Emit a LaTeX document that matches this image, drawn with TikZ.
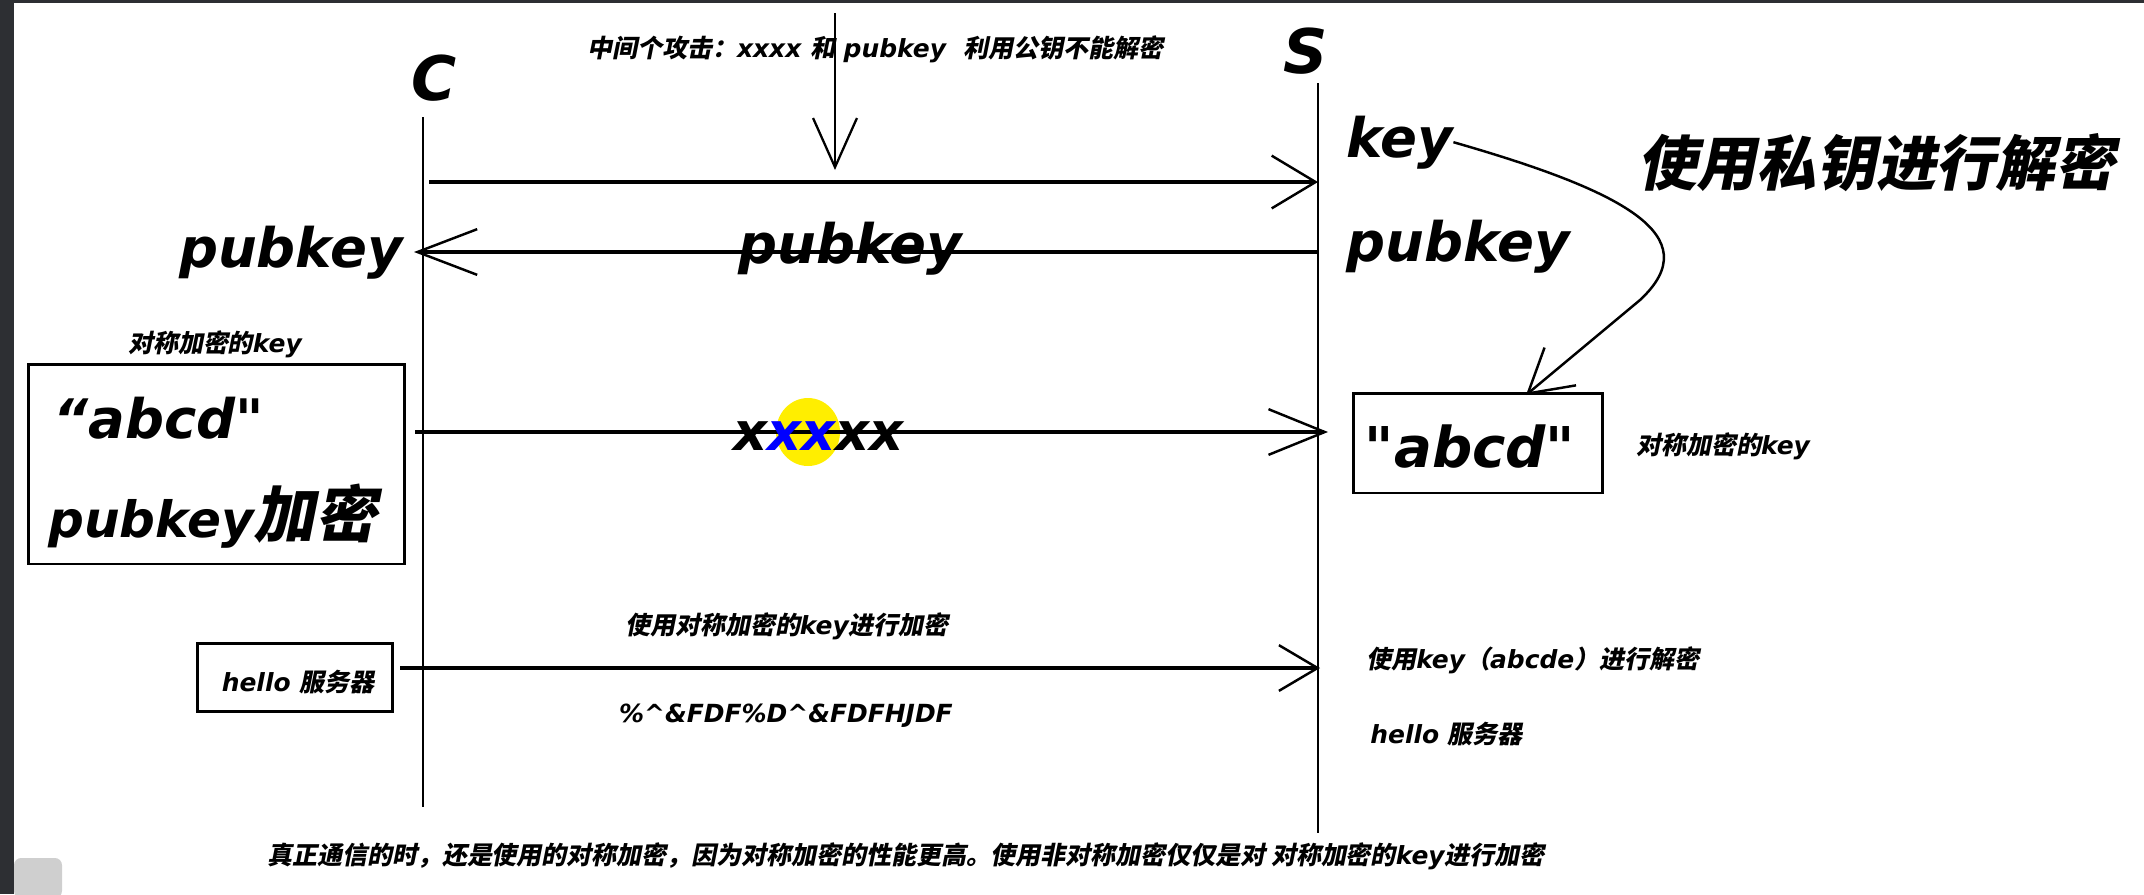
\documentclass[tikz,border=0pt]{standalone}
\usepackage{fontspec}
\setmainfont{DejaVu Sans}[Ligatures=TeXOff]
\newfontfamily\zhfont{Noto Sans CJK SC}[FakeSlant=0.2]
\newcommand\zh[1]{{\zhfont\bfseries\upshape#1}}
\usetikzlibrary{arrows.meta}
\definecolor{scrdark}{HTML}{2D2F33}
\definecolor{scrgray}{HTML}{CFCFCF}
\definecolor{xblue}{HTML}{0000FF}
\definecolor{hiyellow}{HTML}{FFEE00}

\begin{document}
\begin{tikzpicture}[x=0.02cm,y=-0.02cm,
  every node/.style={inner sep=0pt,font=\bfseries\itshape},
  life/.style={line width=1.4pt},
  arr/.style 2 args={line width=2.1pt,-{Straight Barb[length=#1,width=#2,line width=1.4pt]}},
  box/.style={draw,line width=1.7pt},
  sm/.style={font=\bfseries\itshape\fontsize{14.2}{17}\selectfont},
  bg/.style={font=\bfseries\itshape\fontsize{31}{37}\selectfont},
  big/.style={font=\bfseries\itshape\fontsize{35}{42}\selectfont}]
  \useasboundingbox (0,0) rectangle (2144,894);
  % screenshot border
  \fill[scrdark] (0,0) rectangle (14,894);
  \fill[scrdark] (0,0) rectangle (2144,3);
  \fill[scrgray,rounded corners=4pt] (14,858) rectangle (62,898);
  % client and server
  \node[big,anchor=base] (C) at (434,100) {C};
  \node[big,anchor=base] (S) at (1306,73) {S};
  \coordinate (ctop) at (423,117);
  \coordinate (cbot) at (423,807);
  \coordinate (stop) at (1318,83);
  \coordinate (sbot) at (1318,833);
  \draw[life] (ctop) -- (cbot);
  \draw[life] (stop) -- (sbot);
  % man in the middle
  \node[sm,anchor=base west] (mitm) at (587,57)
      {\zh{中间个攻击：}xxxx \zh{和} pubkey\ \ \zh{利用公钥不能解密}};
  \coordinate (atk) at (835,13);
  \coordinate (atktip) at (835,170);
  \draw[life,-{Straight Barb[length=28pt,width=25pt,line width=1.3pt]}] (atk) -- (atktip);
  % 1: hello
  \coordinate (c1) at (429,182);
  \coordinate (s1) at (1318,182);
  \draw[arr={25pt}{30pt}] (c1) -- (s1);
  % 2: pubkey back
  \coordinate (s2) at (1318,252);
  \coordinate (c2) at (414,252);
  \draw[arr={34pt}{26pt}] (s2) -- (c2);
  \node[bg,anchor=base east] (pkc) at (403,267) {pubkey};
  \node[bg,anchor=base] (pkmid) at (850,263) {pubkey};
  \node[bg,anchor=base west] (keys) at (1346,157) {key};
  \node[bg,anchor=base west] (pks) at (1346,261) {pubkey};
  \node[font=\fontsize{34}{40}\selectfont,anchor=base] (decrypt) at (1876,185) {\zh{使用私钥进行解密}};
  % 3: symmetric key
  \node[sm,anchor=base] (symc) at (215,352) {\zh{对称加密的}key};
  \node[box,minimum width=7.54cm,minimum height=4cm] (keyc) at (216.5,464) {};
  \node[bg,anchor=base west] (abcdc) at (53,438) {“abcd"};
  \node[anchor=base west] (encc) at (48,537)
      {\fontsize{28.5}{34}\selectfont pubkey\zh{\fontsize{35}{42}\selectfont 加密}};
  \fill[hiyellow] (808,432) ellipse[x radius=0.64cm,y radius=0.68cm];
  \coordinate (c3) at (415,432);
  \coordinate (s3) at (1328,432);
  \draw[arr={32pt}{26pt}] (c3) -- (s3);
  \node[font=\bfseries\itshape\fontsize{30}{36}\selectfont,anchor=base] (cipher) at (818,450)
      {x\textcolor{xblue}{xx}xx};
  \node[box,minimum width=5cm,minimum height=2cm] (keys2) at (1478,443) {};
  \node[font=\bfseries\itshape\fontsize{32}{38}\selectfont,anchor=base] (abcds) at (1470,467) {"abcd"};
  \node[sm,anchor=base west] (syms) at (1636,454) {\zh{对称加密的}key};
  \coordinate (bend) at (1640,300);
  \coordinate (kin) at (1526,395);
  \draw[life,-{Straight Barb[length=24pt,width=28pt,line width=1.4pt]}]
      (keys.east) .. controls (1620,190) and (1710,235) .. (bend) -- (kin);
  % 4: real message
  \node[sm,anchor=base] (enc) at (787,634) {\zh{使用对称加密的}key\zh{进行加密}};
  \node[box,minimum width=3.92cm,minimum height=1.36cm] (msgc) at (295,677) {};
  \node[sm,anchor=base] (helloc) at (298,691) {hello \zh{服务器}};
  \coordinate (c4) at (400,668);
  \coordinate (s4) at (1320,668);
  \draw[arr={22pt}{26pt}] (c4) -- (s4);
  \node[sm,anchor=base] (ctext) at (786,722)
      {\%\textasciicircum\&FDF\%D\textasciicircum\&FDFHJDF};
  \node[sm,anchor=base west] (dec) at (1366,668) {\zh{使用}key\zh{（}abcde\zh{）进行解密}};
  \node[sm,anchor=base west] (hellos) at (1370,743) {hello \zh{服务器}};
  \node[sm,anchor=base] (note) at (906,864)
      {\zh{真正通信的时，还是使用的对称加密，因为对称加密的性能更高。使用非对称加密仅仅是对 对称加密的}key\zh{进行加密}};
\end{tikzpicture}
\end{document}
